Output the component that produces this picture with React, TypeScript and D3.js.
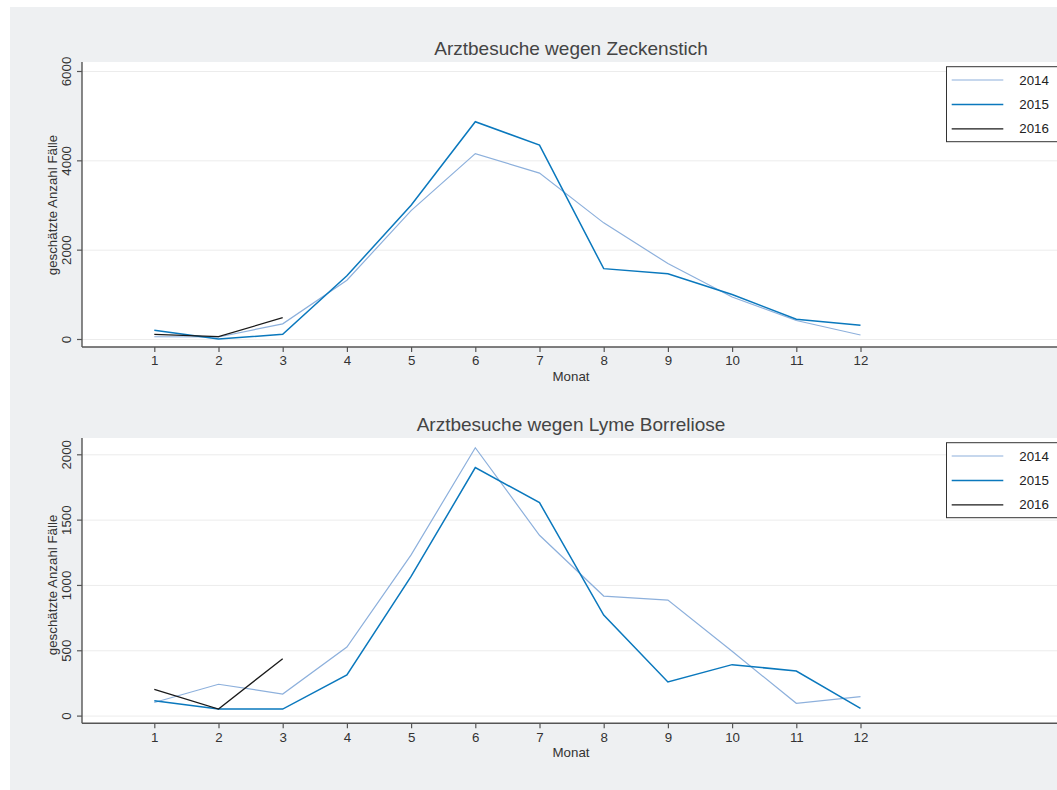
import { useEffect, useRef } from 'react';
import * as d3 from 'd3';

const months = [1, 2, 3, 4, 5, 6, 7, 8, 9, 10, 11, 12];
const years = ['2014', '2015', '2016'];

// Arztbesuche wegen Zeckenstich
const tick2014 = [50, 45, 340, 1315, 2875, 4150, 3715, 2600, 1690, 940, 415, 90];
const tick2015 = [195, 0, 105, 1415, 2995, 4865, 4340, 1575, 1460, 995, 443, 306];
const tick2016 = [105, 52, 477];

// Arztbesuche wegen Lyme Borreliose
const lyme2014 = [100, 240, 165, 525, 1230, 2050, 1380, 915, 884, 492, 94, 145];
const lyme2015 = [113, 50, 50, 311, 1065, 1898, 1630, 769, 257, 390, 341, 56];
const lyme2016 = [200, 50, 436];

const tickYTicks = [0, 2000, 4000, 6000];
const lymeYTicks = [0, 500, 1000, 1500, 2000];

const colors = ['#8db0dc', '#0a78bd', '#1a1a1a'];
const widths = [1.2, 1.5, 1.3];
const FONT = 'Liberation Sans, Arial, Helvetica, sans-serif';

export default function App() {
  const svgRef = useRef(null);

  useEffect(() => {
    const svg = d3.select(svgRef.current);
    svg.selectAll('*').remove();

    svg.append('rect').attr('x', 10).attr('y', 7).attr('width', 1047).attr('height', 783).attr('fill', '#eef0f2');

    const x = d3.scaleLinear().domain([1, 12]).range([154.3, 860.5]);

    const panels = [
      { title: 'Arztbesuche wegen Zeckenstich', top: 62, bottom: 347, y0: 339, yMax: 6000, yMaxPx: 71, ticks: tickYTicks, series: [tick2014, tick2015, tick2016] },
      { title: 'Arztbesuche wegen Lyme Borreliose', top: 438, bottom: 723.3, y0: 715.6, yMax: 2000, yMaxPx: 454.3, ticks: lymeYTicks, series: [lyme2014, lyme2015, lyme2016] },
    ];

    const left = 82;
    const right = 1060;

    panels.forEach((p) => {
      const y = d3.scaleLinear().domain([0, p.yMax]).range([p.y0, p.yMaxPx]);
      const g = svg.append('g');

      g.append('rect').attr('x', left).attr('y', p.top).attr('width', right - left).attr('height', p.bottom - p.top).attr('fill', '#fff');

      // grid
      g.append('g')
        .attr('transform', `translate(${left},0)`)
        .call(d3.axisLeft(y).tickValues(p.ticks).tickSize(-(right - left)).tickFormat(() => ''))
        .call((a) => a.selectAll('line').attr('stroke', '#ececec').attr('stroke-width', 1))
        .call((a) => a.select('.domain').remove());

      // y axis
      const yAx = g.append('g')
        .attr('transform', `translate(${left},0)`)
        .call(d3.axisLeft(y).tickValues(p.ticks).tickSize(5).tickPadding(0).tickFormat(d3.format('d')));
      yAx.select('.domain').remove();
      yAx.selectAll('line').attr('stroke', '#555').attr('stroke-width', 1.2);
      yAx.selectAll('text')
        .attr('fill', '#333').attr('font-family', FONT).attr('font-size', 13.3)
        .attr('x', null).attr('dy', null)
        .attr('text-anchor', 'middle')
        .attr('transform', 'translate(-11,0) rotate(-90)');
      g.append('line').attr('x1', left).attr('x2', left).attr('y1', p.top).attr('y2', p.bottom)
        .attr('stroke', '#555').attr('stroke-width', 1.4);

      // x axis
      const xAx = g.append('g')
        .attr('transform', `translate(0,${p.bottom})`)
        .call(d3.axisBottom(x).tickValues(months).tickSize(5).tickPadding(4).tickFormat(d3.format('d')));
      xAx.select('.domain').remove();
      xAx.selectAll('line').attr('stroke', '#555').attr('stroke-width', 1.2);
      xAx.selectAll('text').attr('fill', '#333').attr('font-family', FONT).attr('font-size', 13.3);
      g.append('line').attr('x1', left).attr('x2', right).attr('y1', p.bottom).attr('y2', p.bottom)
        .attr('stroke', '#555').attr('stroke-width', 1.4);

      // labels
      g.append('text').attr('x', 571).attr('y', p.top - 7).attr('text-anchor', 'middle')
        .attr('font-family', FONT).attr('font-size', 19).attr('fill', '#444').text(p.title);
      g.append('text').attr('x', 571).attr('y', p.bottom + 33.5).attr('text-anchor', 'middle')
        .attr('font-family', FONT).attr('font-size', 13.3).attr('fill', '#333').text('Monat');
      g.append('text').attr('transform', `translate(57,${(p.y0 + p.yMaxPx) / 2}) rotate(-90)`)
        .attr('text-anchor', 'middle').attr('font-family', FONT).attr('font-size', 13.3).attr('fill', '#333')
        .text('geschätzte Anzahl Fälle');

      // lines
      const line = d3.line().x((d, i) => x(months[i])).y((d) => y(d));
      p.series.forEach((s, i) => {
        g.append('path').datum(s).attr('fill', 'none').attr('stroke', colors[i])
          .attr('stroke-width', widths[i]).attr('stroke-linejoin', 'miter').attr('d', line);
      });

      // legend
      const lg = g.append('g').attr('transform', `translate(946,${p.top + 4.7})`);
      lg.append('rect').attr('x', 0.5).attr('y', 0).attr('width', 120).attr('height', 75)
        .attr('fill', '#fff').attr('stroke', '#333').attr('stroke-width', 1);
      years.forEach((yr, i) => {
        const ly = 13.3 + i * 24.4;
        lg.append('line').attr('x1', 5.7).attr('x2', 57.3).attr('y1', ly).attr('y2', ly)
          .attr('stroke', colors[i]).attr('stroke-width', widths[i]);
        lg.append('text').attr('x', 73.3).attr('y', ly + 4.6).attr('font-family', FONT)
          .attr('font-size', 13.3).attr('fill', '#222').text(yr);
      });
    });
  }, []);

  return (
    <svg
      ref={svgRef}
      width={1057}
      height={790}
      style={{ position: 'absolute', left: 0, top: 0, display: 'block' }}
    />
  );
}
